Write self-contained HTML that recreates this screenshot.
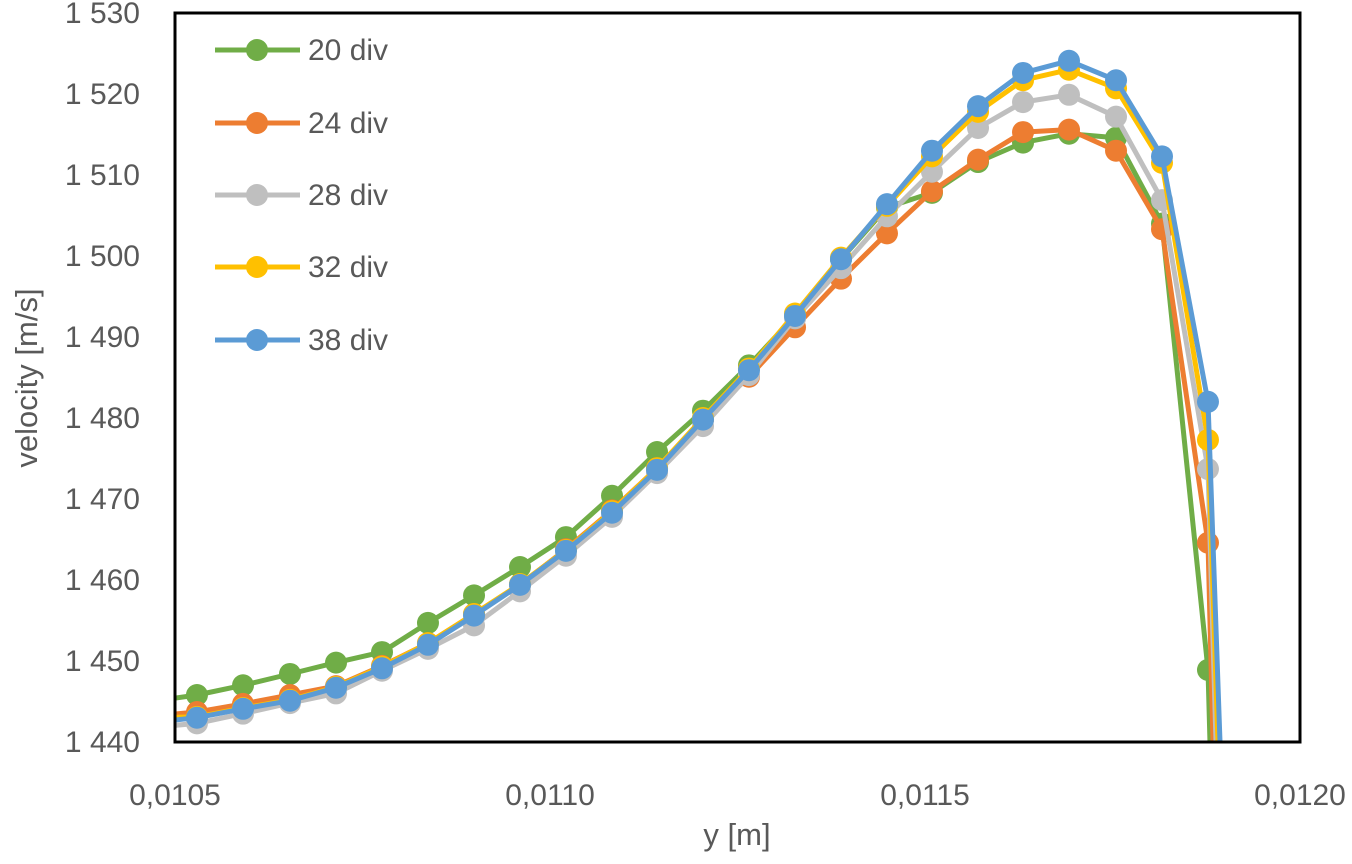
<!DOCTYPE html>
<html><head><meta charset="utf-8"><style>
html,body{margin:0;padding:0;background:#fff;width:1352px;height:864px;overflow:hidden;}
svg{display:block;font-family:"Liberation Sans",sans-serif;}
</style></head><body>
<svg id="chart" width="1352" height="864" viewBox="0 0 1352 864">
<defs><clipPath id="plotclip"><rect x="175" y="13" width="1125" height="729"/></clipPath></defs>
<rect x="0" y="0" width="1352" height="864" fill="#fff"/>
<g id="yticks"></g>
<g id="xticks"></g>
<g id="series" clip-path="url(#plotclip)"></g>
<rect x="175" y="13" width="1125" height="729" fill="none" stroke="#000" stroke-width="3"/>
<g id="legend"></g>
<text x="737" y="845" font-size="31" fill="#595959" text-anchor="middle">y [m]</text>
<text x="0" y="0" font-size="31" fill="#595959" text-anchor="middle" transform="translate(37,378) rotate(-90)">velocity [m/s]</text>
</svg>
<script>
const xValues = [0.010468,0.0105293,0.0105907,0.0106533,0.0107147,0.010776,0.0108373,0.0108987,0.010960,0.0110213,0.0110827,0.0111427,0.011204,0.0112653,0.0113267,0.011388,0.0114493,0.0115093,0.0115707,0.0116307,0.011692,0.0117547,0.011816,0.0118773,0.0119387];
const seriesNames = ["20 div","24 div","28 div","32 div","38 div"];
const seriesColors = ["#70AD47","#ED7D31","#BFBFBF","#FFC000","#5B9BD5"];
const v20 = [1445.0,1445.8,1447.0,1448.4,1449.8,1451.1,1454.7,1458.1,1461.6,1465.3,1470.4,1475.8,1480.9,1486.5,1492.6,1499.6,1506.0,1507.8,1511.6,1514.0,1515.1,1514.6,1504.0,1448.9,1242];
const v24 = [1443.2,1443.7,1444.7,1445.8,1446.9,1449.4,1452.2,1455.8,1459.4,1463.8,1468.6,1473.8,1479.8,1485.1,1491.2,1497.2,1502.8,1508.0,1511.9,1515.3,1515.6,1513.0,1503.3,1464.6,1239];
const v28 = [1441.8,1442.3,1443.5,1444.8,1446.0,1448.8,1451.5,1454.4,1458.6,1463.0,1467.8,1473.2,1479.0,1485.3,1492.3,1498.5,1504.9,1510.4,1515.8,1519.0,1519.9,1517.2,1506.9,1473.7,1280];
const v32 = [1443.0,1443.1,1444.2,1445.2,1446.8,1449.3,1452.2,1455.8,1459.5,1463.7,1468.5,1473.8,1480.0,1486.1,1492.9,1499.8,1506.2,1512.3,1517.8,1521.7,1523.0,1520.7,1511.5,1477.3,1305];
const v38 = [1442.4,1443.0,1444.1,1445.1,1446.7,1449.1,1452.0,1455.6,1459.4,1463.6,1468.3,1473.6,1479.8,1485.9,1492.6,1499.6,1506.4,1513.0,1518.5,1522.6,1524.1,1521.7,1512.3,1482.0,1321];
const yTicks = [1440,1450,1460,1470,1480,1490,1500,1510,1520,1530];
const yTickLabels = ["1 440","1 450","1 460","1 470","1 480","1 490","1 500","1 510","1 520","1 530"];
const xTicks = [0.0105,0.0110,0.0115,0.0120];
const xTickLabels = ["0,0105","0,0110","0,0115","0,0120"];
</script>
<script>
const NS="http://www.w3.org/2000/svg";
const X0=175,X1=1300,Y0=742,Y1=13;
function xs(v){return X0+(v-0.0105)/(0.0120-0.0105)*(X1-X0);}
function ys(v){return Y0-(v-1440)/(1530-1440)*(Y0-Y1);}
function mk(tag,attrs){const e=document.createElementNS(NS,tag);for(const k in attrs)e.setAttribute(k,attrs[k]);return e;}
const yg=document.getElementById('yticks');
yTicks.forEach((t,i)=>{
  const tx=mk('text',{x:140,y:ys(t)+10,'font-size':30,fill:'#595959','text-anchor':'end'});
  tx.textContent=yTickLabels[i];
  
  
  yg.appendChild(tx);
});
const xg=document.getElementById('xticks');
xTicks.forEach((t,i)=>{
  const tx=mk('text',{x:xs(t),y:805,'font-size':30,fill:'#595959','text-anchor':'middle'});
  tx.textContent=xTickLabels[i];
  
  
  xg.appendChild(tx);
});
const all=[v20,v24,v28,v32,v38];
const sg=document.getElementById('series');
all.forEach((vals,si)=>{
  const g=mk('g',{});
  
  
  const pts=vals.map((v,i)=>xs(xValues[i]).toFixed(1)+','+ys(v).toFixed(1)).join(' ');
  const pl=mk('polyline',{points:pts,fill:'none',stroke:seriesColors[si],'stroke-width':5,'stroke-linejoin':'round'});
  
  
  g.appendChild(pl);
  vals.forEach((v,i)=>{
    const c=mk('circle',{cx:xs(xValues[i]),cy:ys(v),r:11,fill:seriesColors[si]});
    
    
    g.appendChild(c);
  });
  sg.appendChild(g);
});
const lg=document.getElementById('legend');
const legY=[50,123,195,267,340];
seriesNames.forEach((n,i)=>{
  const g=mk('g',{});
  
  
  g.appendChild(mk('line',{x1:215,y1:legY[i],x2:300,y2:legY[i],stroke:seriesColors[i],'stroke-width':5}));
  g.appendChild(mk('circle',{cx:257,cy:legY[i],r:11,fill:seriesColors[i]}));
  const t=mk('text',{x:308,y:legY[i]+10,'font-size':30,fill:'#595959'});
  t.textContent=n;
  g.appendChild(t);
  lg.appendChild(g);
});
</script>
</body></html>
